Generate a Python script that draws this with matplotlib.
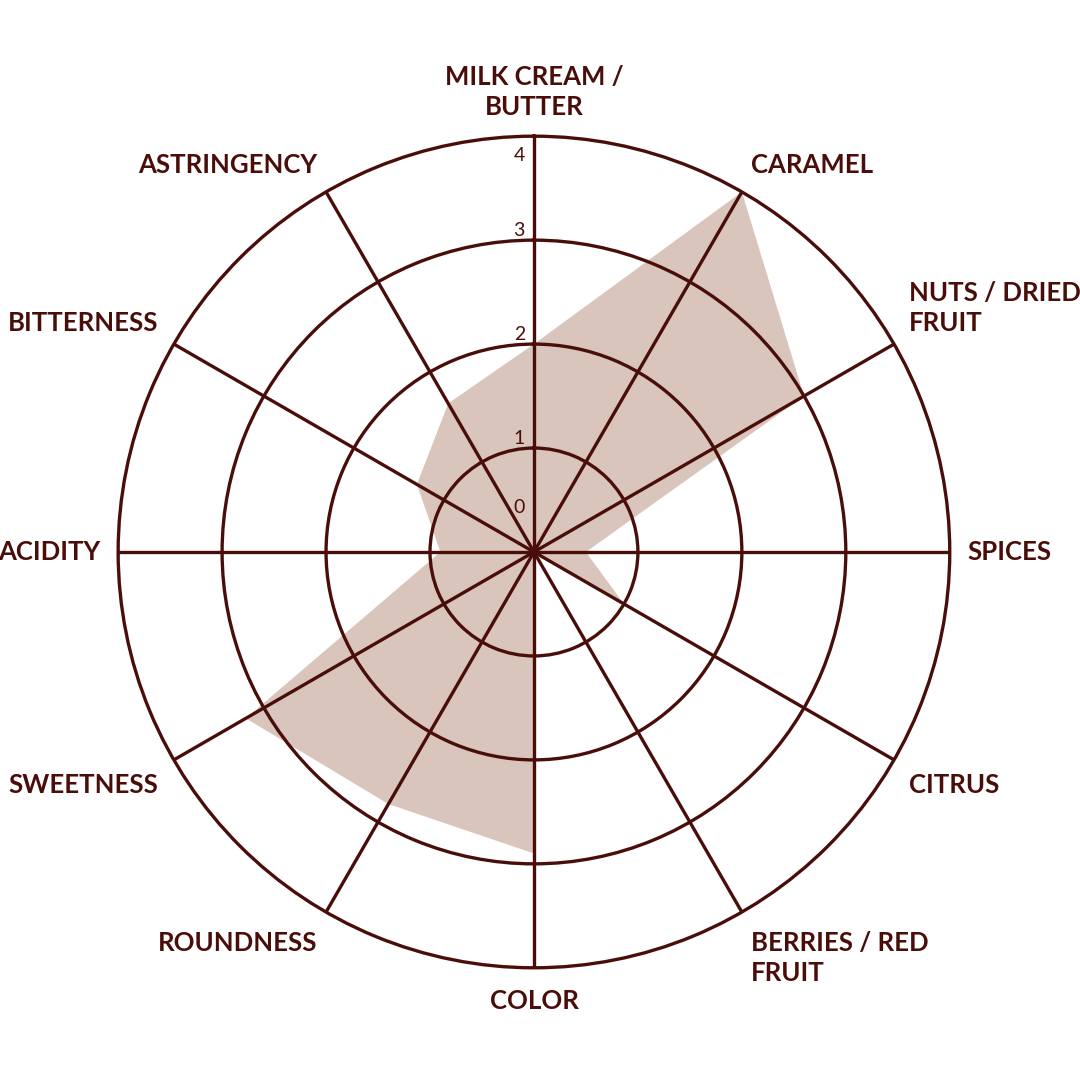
import numpy as np
import matplotlib
matplotlib.use("Agg")
import matplotlib.pyplot as plt

labels = ["MILK CREAM /\nBUTTER", "CARAMEL", "NUTS / DRIED\nFRUIT", "SPICES",
          "CITRUS", "BERRIES / RED\nFRUIT", "COLOR", "ROUNDNESS",
          "SWEETNESS", "ACIDITY", "BITTERNESS", "ASTRINGENCY"]
values = [2.0, 4.0, 3.0, 0.5, 1.0, 0.0, 2.9, 2.8, 3.2, 0.9, 1.3, 1.65]
ticks = [0, 1, 2, 3, 4]

line_col = "#4a0e0a"
fill_col = "#d9c5bb"
font = "Lato"

n = len(labels)
theta = np.arange(n) * 2 * np.pi / n

fig = plt.figure(figsize=(10.8, 10.8), dpi=100)
ax = fig.add_axes([0.1094, 0.1039, 0.770, 0.770], projection="polar")
ax.set_theta_zero_location("N")
ax.set_theta_direction(-1)
ax.set_ylim(0, 4)

ax.fill(np.append(theta, theta[0]), np.append(values, values[0]),
        color=fill_col, lw=0, zorder=1)

ax.set_thetagrids(np.degrees(theta), labels=[""] * n)
ax.set_rgrids([1, 2, 3], labels=[""] * 3)
ax.grid(True, color=line_col, lw=2.4)
ax.set_axisbelow(False)
ax.spines["polar"].set_color(line_col)
ax.spines["polar"].set_linewidth(2.4)
ax.tick_params(length=0)

for t, lab in zip(theta, labels):
    s, c = np.sin(t), np.cos(t)
    ha = "center" if abs(s) < 1e-6 else ("left" if s > 0 else "right")
    dy = 0
    if abs(c) < 1e-6:
        va = "center"
    elif c > 0:
        va = "bottom"
    else:
        va = "top"
        dy = -4
    ax.annotate(lab, xy=(t, 4.17), xytext=(0, dy), textcoords="offset pixels",
                ha=ha, va=va, multialignment=ha,
                fontsize=18.5, fontweight="bold", family=font, color=line_col,
                linespacing=1.3, annotation_clip=False)

# radial tick numbers, drawn next to the top spoke
offs = {0: 44, 1: 10, 2: 10, 3: 10, 4: -19}
for v in ticks:
    ax.annotate(str(v), xy=(0, v), xytext=(-9, offs[v]), textcoords="offset pixels",
                ha="right", va="center", fontsize=14, family=font,
                color=line_col, annotation_clip=False)

fig.savefig("out.png", dpi=100, facecolor="white")
